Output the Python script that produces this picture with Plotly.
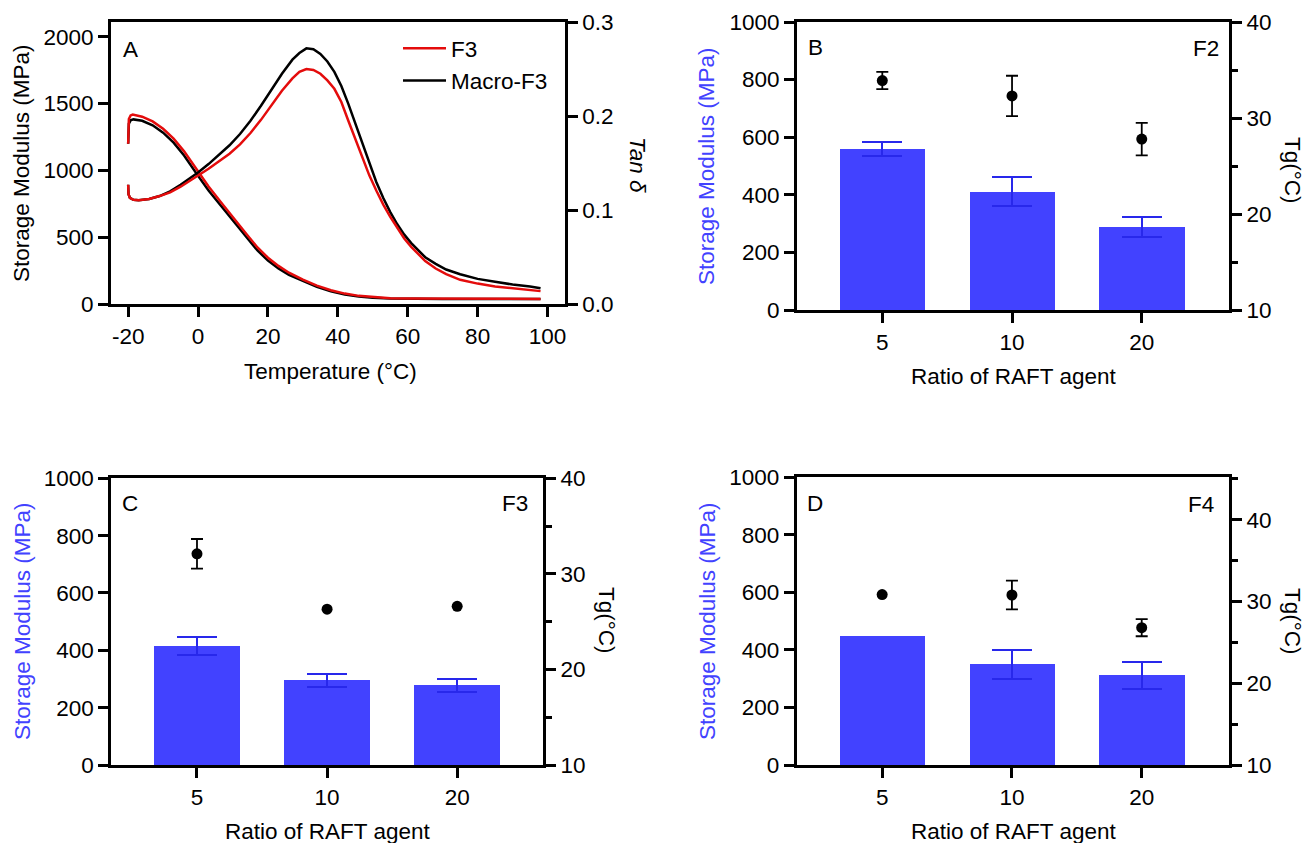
import plotly.graph_objects as go

W, H = 1307, 843

# ---------------- Panel A data (DMA) ----------------
T_E_F3 = [-20, -19.95, -19.8, -19.3, -18.7, -16, -13, -10, -7, -4, -2, 0, 3, 7, 10, 14, 17, 20, 23, 26, 30,
          34, 38, 42, 46, 50, 55, 60, 70, 80, 90, 98]
E_F3 = [1200, 1300, 1385, 1412, 1418, 1402, 1367, 1312, 1238, 1143, 1070, 990, 880, 748, 648, 520, 425, 348, 287,
        236, 185, 140, 105, 80, 63, 53, 46, 43, 41, 40, 40, 40]
T_E_M = [-20, -19.95, -19.8, -19.3, -18.5, -16, -13, -10, -7, -4, -2, 0, 3, 7, 10, 14, 17, 20, 23, 26, 30,
         34, 38, 42, 46, 50, 55, 60, 70, 80, 90, 98]
E_M = [1200, 1290, 1350, 1375, 1382, 1372, 1338, 1283, 1208, 1112, 1040, 960, 850, 722, 622, 495, 402, 327, 268,
       220, 172, 130, 97, 74, 58, 49, 44, 42, 40, 40, 40, 40]
T_tan = [-20, -19.9, -19.5, -18.5, -17, -14, -11, -8, -5, -2, 0, 3, 6, 9, 12, 15, 18, 21, 24, 27, 29, 31, 33, 35,
         37, 39, 41, 43, 45, 47, 49, 51, 53, 55, 57, 59, 61, 63, 65, 68, 71, 75, 80, 85, 90, 95, 98]
tan_F3 = [0.127, 0.117, 0.113, 0.111, 0.1105, 0.112, 0.115, 0.119, 0.125, 0.132, 0.137, 0.144, 0.152, 0.160,
          0.170, 0.182, 0.196, 0.211, 0.227, 0.240, 0.247, 0.250, 0.249, 0.245, 0.238, 0.229, 0.215, 0.195,
          0.175, 0.155, 0.137, 0.121, 0.106, 0.093, 0.081, 0.070, 0.061, 0.053, 0.046, 0.038, 0.032, 0.026,
          0.022, 0.019, 0.017, 0.015, 0.014]
tan_M = [0.127, 0.117, 0.113, 0.111, 0.1105, 0.112, 0.115, 0.120, 0.127, 0.135, 0.140, 0.149, 0.159, 0.169,
         0.181, 0.195, 0.211, 0.228, 0.245, 0.260, 0.267, 0.272, 0.271, 0.266, 0.258, 0.247, 0.232, 0.213,
         0.192, 0.170, 0.149, 0.130, 0.113, 0.098, 0.085, 0.074, 0.065, 0.057, 0.050, 0.043, 0.037, 0.032,
         0.027, 0.024, 0.021, 0.019, 0.017]
temp_ticks = [-20, 0, 20, 40, 60, 80, 100]
temp_ticktext = ["-20", "0", "20", "40", "60", "80", "100"]

# ---------------- Panels B-D data ----------------
ratio_labels = ["5", "10", "20"]
B_mod = [560, 411, 288]
B_mod_err = [25, 51, 35]
B_tg = [33.9, 32.3, 27.8]
B_tg_err = [0.9, 2.1, 1.7]

C_mod = [414, 294, 277]
C_mod_err = [32, 22, 24]
C_tg = [32.1, 26.3, 26.6]
C_tg_err = [1.55, None, None]

D_mod = [449, 349, 312]
D_mod_err = [None, 50, 47]
D_tg = [30.85, 30.8, 26.8]
D_tg_err = [None, 1.75, 1.05]

RED = "rgb(228,12,12)"
BLUE = "rgb(66,66,255)"
EBLUE = "rgb(40,40,235)"
FONT = "Liberation Sans, Arial, sans-serif"
FS = 22.5


def px(x):
    return x / W


def py(y):
    return 1 - y / H


fig = go.Figure()

# Panel A
fig.add_trace(go.Scatter(x=T_E_M, y=E_M, mode="lines", line=dict(color="black", width=2.5),
                         name="Macro-F3", legendrank=2, xaxis="x", yaxis="y"))
fig.add_trace(go.Scatter(x=T_tan, y=tan_M, mode="lines", line=dict(color="black", width=2.5),
                         showlegend=False, xaxis="x", yaxis="y2"))
fig.add_trace(go.Scatter(x=T_E_F3, y=E_F3, mode="lines", line=dict(color=RED, width=2.5),
                         name="F3", legendrank=1, xaxis="x", yaxis="y"))
fig.add_trace(go.Scatter(x=T_tan, y=tan_F3, mode="lines", line=dict(color=RED, width=2.5),
                         showlegend=False, xaxis="x", yaxis="y2"))


def split(labels, vals, errs):
    with_e = [(l, v, e) for l, v, e in zip(labels, vals, errs) if e is not None]
    no_e = [(l, v) for l, v, e in zip(labels, vals, errs) if e is None]
    return with_e, no_e


def add_panel(xa, ya, yb, mod, mod_err, tg, tg_err):
    we, ne = split(ratio_labels, mod, mod_err)
    if we:
        fig.add_trace(go.Bar(x=[a[0] for a in we], y=[a[1] for a in we], width=0.66,
                             marker=dict(color=BLUE, line=dict(width=0)),
                             error_y=dict(type="data", array=[a[2] for a in we], color=EBLUE, thickness=2, width=20),
                             showlegend=False, xaxis=xa, yaxis=ya))
    if ne:
        fig.add_trace(go.Bar(x=[a[0] for a in ne], y=[a[1] for a in ne], width=0.66,
                             marker=dict(color=BLUE, line=dict(width=0)),
                             showlegend=False, xaxis=xa, yaxis=ya))
    we, ne = split(ratio_labels, tg, tg_err)
    if we:
        fig.add_trace(go.Scatter(x=[a[0] for a in we], y=[a[1] for a in we], mode="markers",
                                 marker=dict(color="black", size=11),
                                 error_y=dict(type="data", array=[a[2] for a in we], color="black",
                                              thickness=1.8, width=6),
                                 showlegend=False, xaxis=xa, yaxis=yb))
    if ne:
        fig.add_trace(go.Scatter(x=[a[0] for a in ne], y=[a[1] for a in ne], mode="markers",
                                 marker=dict(color="black", size=11),
                                 showlegend=False, xaxis=xa, yaxis=yb))


add_panel("x2", "y3", "y4", B_mod, B_mod_err, B_tg, B_tg_err)
add_panel("x3", "y5", "y6", C_mod, C_mod_err, C_tg, C_tg_err)
add_panel("x4", "y7", "y8", D_mod, D_mod_err, D_tg, D_tg_err)

base = dict(showline=True, linecolor="black", linewidth=2.5, ticks="outside", ticklen=10, tickwidth=2.5,
            tickcolor="black", showgrid=False, zeroline=False, automargin=False,
            tickfont=dict(family=FONT, size=FS, color="black"))

# domains (pixel -> paper)
dA = dict(x=[px(110.7), px(565)], y=[py(304.3), py(22)])
dB = dict(x=[px(796.7), px(1229.3)], y=[py(310), py(22)])
dC = dict(x=[px(111), px(543.3)], y=[py(765), py(478.3)])
dD = dict(x=[px(796.5), px(1229.3)], y=[py(765), py(477.3)])

minor = dict(ticklen=6, tickwidth=2.5, tickcolor="black", dtick=5, ticks="outside")

fig.update_layout(
    template="simple_white",
    width=W, height=H, autosize=False,
    margin=dict(l=0, r=0, t=0, b=0, pad=0, autoexpand=False),
    paper_bgcolor="white", plot_bgcolor="white",
    font=dict(family=FONT, size=FS, color="black"),
    barmode="overlay", bargap=0,
    xaxis=dict(base, domain=dA["x"], anchor="y", range=[-25, 105], tickvals=temp_ticks,
               ticktext=temp_ticktext, mirror=True),
    yaxis=dict(base, domain=dA["y"], anchor="x", range=[0, 2110], tickvals=[0, 500, 1000, 1500, 2000]),
    yaxis2=dict(base, overlaying="y", side="right", anchor="x", range=[0, 0.3],
                tickvals=[0, 0.1, 0.2, 0.3], tickformat=".1f"),
    xaxis2=dict(base, domain=dB["x"], anchor="y3", type="category", categoryorder="array",
                categoryarray=ratio_labels, range=[-0.66, 2.675], mirror=True),
    yaxis3=dict(base, domain=dB["y"], anchor="x2", range=[0, 1000], tickvals=[0, 200, 400, 600, 800, 1000]),
    yaxis4=dict(base, overlaying="y3", side="right", anchor="x2", range=[10, 40],
                tickvals=[10, 20, 30, 40], minor=minor),
    xaxis3=dict(base, domain=dC["x"], anchor="y5", type="category", categoryorder="array",
                categoryarray=ratio_labels, range=[-0.661, 2.662], mirror=True),
    yaxis5=dict(base, domain=dC["y"], anchor="x3", range=[0, 1000], tickvals=[0, 200, 400, 600, 800, 1000]),
    yaxis6=dict(base, overlaying="y5", side="right", anchor="x3", range=[10, 40],
                tickvals=[10, 20, 30, 40], minor=minor),
    xaxis4=dict(base, domain=dD["x"], anchor="y7", type="category", categoryorder="array",
                categoryarray=ratio_labels, range=[-0.66, 2.675], mirror=True),
    yaxis7=dict(base, domain=dD["y"], anchor="x4", range=[0, 1000], tickvals=[0, 200, 400, 600, 800, 1000]),
    yaxis8=dict(base, overlaying="y7", side="right", anchor="x4", range=[10, 45.2],
                tickvals=[10, 20, 30, 40], minor=minor),
    legend=dict(x=px(398), y=py(27), xanchor="left", yanchor="top", bgcolor="rgba(0,0,0,0)",
                font=dict(family=FONT, size=FS, color="black"), itemwidth=43, tracegroupgap=0),
)


def ann(text, x, y, angle=0, color="black", size=FS):
    fig.add_annotation(text=text, x=px(x), y=py(y), xref="paper", yref="paper", showarrow=False,
                       textangle=angle, font=dict(family=FONT, size=size, color=color),
                       xanchor="center", yanchor="middle")


SM = "Storage Modulus (MPa)"
TG = "Tg(°C)"
RT = "Ratio of RAFT agent"
# Panel A texts
ann(SM, 22, 163, -90)
ann("<i>Tan δ</i>", 638, 165, 90)
ann("Temperature (°C)", 330, 371)
ann("A", 130, 49)
# Panel B
ann(SM, 706, 166, -90, BLUE)
ann(TG, 1293, 170, 90)
ann(RT, 1013, 376)
ann("B", 815, 47)
ann("F2", 1206, 48)
# Panel C
ann(SM, 22, 621, -90, BLUE)
ann(TG, 607, 620, 90)
ann(RT, 327, 831)
ann("C", 130, 503)
ann("F3", 515, 503)
# Panel D
ann(SM, 707, 621, -90, BLUE)
ann(TG, 1293, 621, 90)
ann(RT, 1013, 831)
ann("D", 815, 503)
ann("F4", 1201, 505)

fig.write_html("out.html", config={"displayModeBar": False},
               post_script="document.body.style.margin='0';document.body.style.overflow='hidden';")
